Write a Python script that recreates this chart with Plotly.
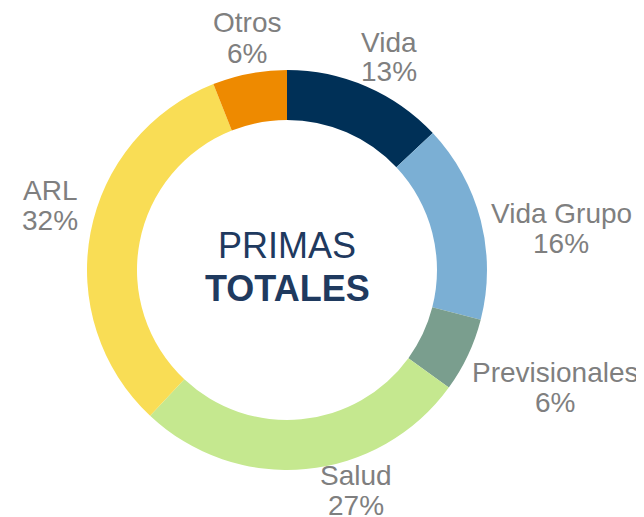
import plotly.graph_objects as go

categories = ["Vida", "Vida Grupo", "Previsionales", "Salud", "ARL", "Otros"]
values = [13, 16, 6, 27, 32, 6]
colors = ["#003057", "#7BAFD4", "#7A9E8E", "#C5E88F", "#F9DD55", "#EE8A00"]

W, H = 644, 517
OFF = 8  # page body margin
cx, cy, R = 287 - OFF, 270 - OFF, 200

# label anchor positions in pixels (name line, pct line), page coordinates
label_pos = {
    "Vida": (389, 42, 72),
    "Vida Grupo": (561, 213, 243),
    "Previsionales": (555, 372, 402),
    "Salud": (356, 475, 505),
    "ARL": (50, 190, 220),
    "Otros": (247, 23, 53),
}

fig = go.Figure(go.Pie(
    labels=categories, values=values, sort=False, direction="clockwise",
    hole=0.75, marker=dict(colors=colors, line=dict(width=0)),
    textinfo="none", hoverinfo="label+percent", showlegend=False,
    domain=dict(x=[(cx - R) / W, (cx + R) / W], y=[1 - (cy + R) / H, 1 - (cy - R) / H]),
))

total = sum(values)
anns = []
for cat, v in zip(categories, values):
    x, y1, y2 = label_pos[cat]
    for txt, yy in ((cat, y1), (f"{round(100 * v / total)}%", y2)):
        anns.append(dict(x=(x - OFF) / W, y=1 - (yy - OFF) / H, xref="paper", yref="paper", text=txt,
                         showarrow=False, xanchor="center", yanchor="middle",
                         font=dict(family="Liberation Sans, Arial", size=28, color="#7F7F7F")))
anns.append(dict(x=cx / W, y=1 - (245 - OFF) / H, xref="paper", yref="paper", text="PRIMAS",
                 showarrow=False, xanchor="center", yanchor="middle",
                 font=dict(family="Liberation Sans, Arial", size=36, color="#1F3A5F")))
anns.append(dict(x=cx / W, y=1 - (288 - OFF) / H, xref="paper", yref="paper", text="<b>TOTALES</b>",
                 showarrow=False, xanchor="center", yanchor="middle",
                 font=dict(family="Liberation Sans, Arial", size=36, color="#1F3A5F")))

fig.update_layout(width=W, height=H, margin=dict(l=0, r=0, t=0, b=0),
                  paper_bgcolor="white", plot_bgcolor="white", annotations=anns)
fig.write_html("out.html")
